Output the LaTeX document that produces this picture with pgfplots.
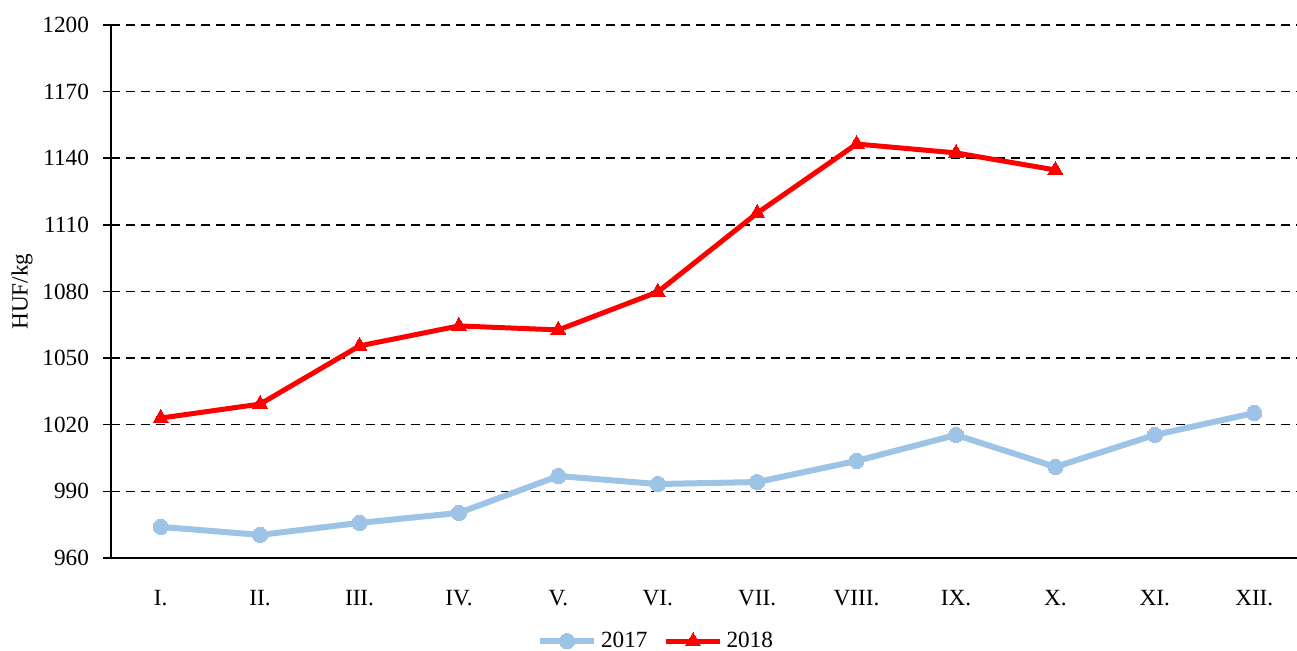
\documentclass[border=0pt]{standalone}
\usepackage{fontspec}
\setmainfont{Liberation Serif}
\usepackage{pgfplots}
\pgfplotsset{compat=1.18}
\definecolor{c2017}{RGB}{157,195,230}
\definecolor{c2018}{RGB}{255,0,0}
\begin{document}
\fontsize{11.6}{13.5}\selectfont
\begin{tikzpicture}
\begin{axis}[
  scale only axis,
  width=593pt, height=266.5pt,
  xmin=0.5, xmax=12.43,
  ymin=960, ymax=1200,
  ytick={960,990,...,1200},
  xtick={1,...,12},
  xticklabels={I.,II.,III.,IV.,V.,VI.,VII.,VIII.,IX.,X.,XI.,XII.},
  extra x ticks={0.5,1.5,...,11.5},
  extra x tick labels={},
  extra x tick style={major tick length=5pt, tick style={black, line width=0.75pt}, tick align=outside},
  x tick style={draw=none},
  y tick style={black, line width=0.75pt},
  major tick length=4pt,
  tick align=outside,
  axis x line*=bottom,
  axis y line*=left,
  axis line style={black, line width=0.8pt, -},
  ymajorgrids,
  major grid style={black, dash pattern=on 4.5pt off 3pt, line width=0.75pt},
  /pgf/number format/assume math mode=true,
  /pgf/number format/1000 sep={},
  yticklabel style={xshift=-3pt},
  xticklabel style={yshift=-8pt},
  ylabel={HUF/kg},
  ylabel style={at={(axis description cs:-0.075,0.5)}, anchor=center},
  legend columns=2,
  legend style={draw=none, fill=none, at={(axis description cs:0.4604,-0.156)}, anchor=center,
    /tikz/every even column/.append style={column sep=6pt}},
  legend image code/.code={
    \draw[#1] (0pt,0pt) -- (27pt,0pt);
    \draw[#1, only marks] plot coordinates {(13.5pt,0pt)};
  },
]
\addplot[color=c2017, line width=3pt, mark=*, mark size=3.8pt, mark options={solid, fill=c2017, draw=c2017, line width=0pt}]
  coordinates {(1,974) (2,970.4) (3,975.8) (4,980.3) (5,996.9) (6,993.3) (7,994.2) (8,1003.7) (9,1015.4) (10,1001) (11,1015.4) (12,1025.3)};
\addlegendentry{2017}
\addplot[color=c2018, line width=2.5pt, mark=triangle*, mark size=4.3pt, mark options={solid, fill=c2018, draw=c2018, line width=0pt}]
  coordinates {(1,1023) (2,1029.3) (3,1055.5) (4,1064.5) (5,1062.7) (6,1079.8) (7,1115.3) (8,1146.4) (9,1142.4) (10,1134.7)};
\addlegendentry{2018}
\end{axis}
\pgfresetboundingbox
\path (-55.5pt,-46.5pt) rectangle (593pt,279pt);
\end{tikzpicture}
\end{document}
